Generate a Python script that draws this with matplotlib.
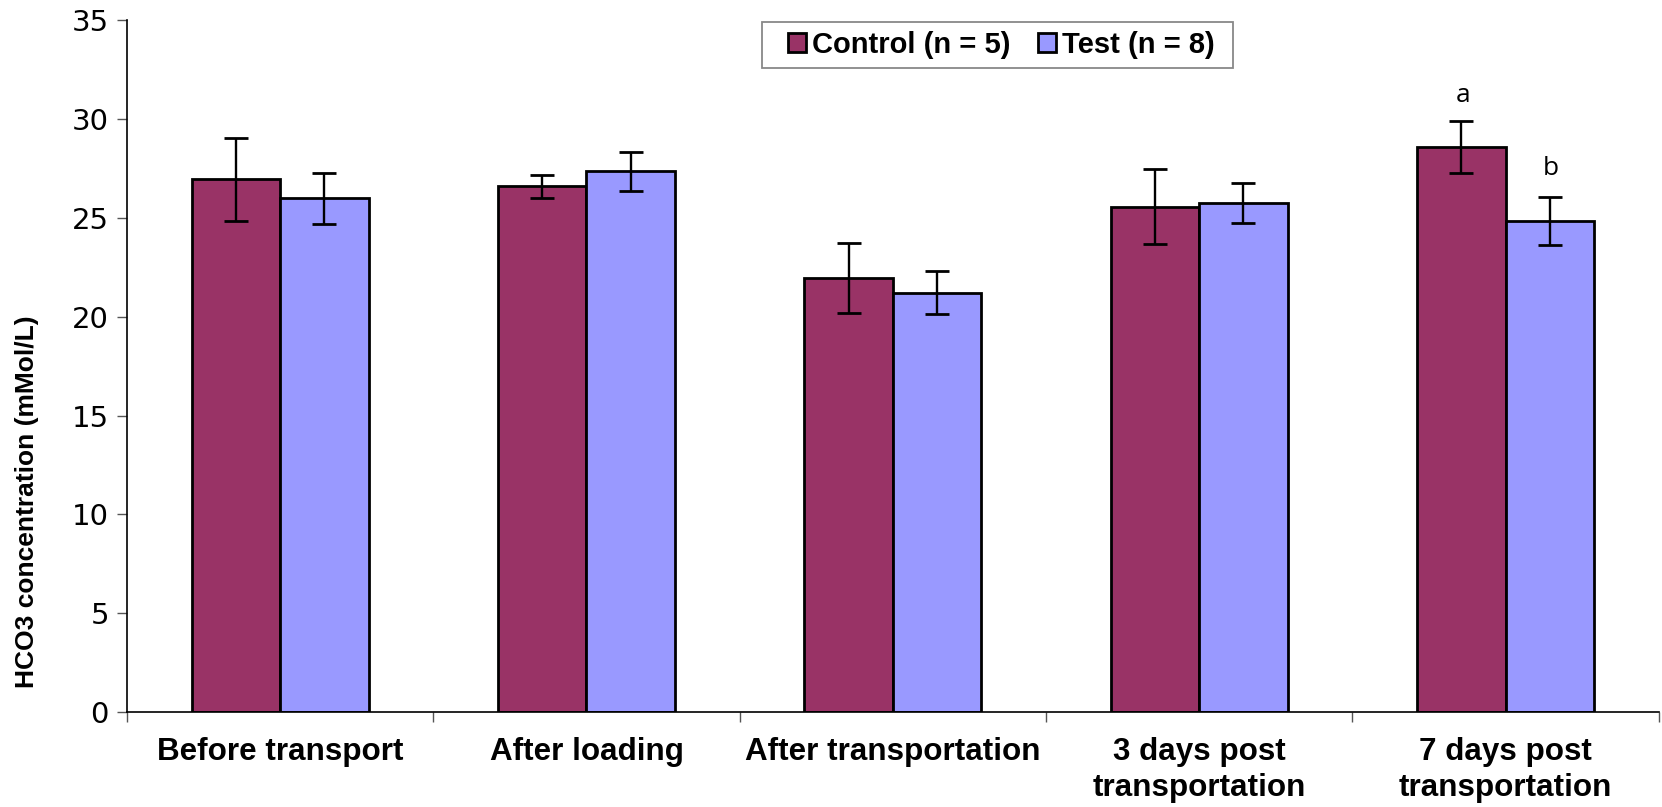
import matplotlib
matplotlib.use("Agg")
import matplotlib.pyplot as plt
from matplotlib.patches import Patch, Rectangle
import numpy as np

categories = ["Before transport", "After loading", "After transportation",
              "3 days post\ntransportation", "7 days post\ntransportation"]
control_mean = [26.95, 26.6, 21.97, 25.57, 28.6]
control_err = [2.1, 0.6, 1.77, 1.9, 1.33]
test_mean = [26.0, 27.36, 21.23, 25.75, 24.86]
test_err = [1.28, 0.97, 1.07, 1.0, 1.22]
control_label = "Control (n = 5)"
test_label = "Test (n = 8)"
sig_control = ["", "", "", "", "a"]
sig_test = ["", "", "", "", "b"]
yticks = [0, 5, 10, 15, 20, 25, 30, 35]
ylabel = "HCO3 concentration (mMol/L)"

c_control = "#993366"
c_test = "#9999FF"

fig = plt.figure(figsize=(16.62, 8.07), dpi=100)
ax = fig.add_axes([0.0764, 0.1177, 0.9216, 0.857])

x = np.arange(len(categories))
w = 0.2885
ax.bar(x - w / 2, control_mean, w, color=c_control, edgecolor="black", linewidth=2.0, zorder=2)
ax.bar(x + w / 2, test_mean, w, color=c_test, edgecolor="black", linewidth=2.0, zorder=2)
ekw = dict(fmt="none", ecolor="black", elinewidth=1.7, capsize=8.5, capthick=2.0, zorder=3)
ax.errorbar(x - w / 2, control_mean, yerr=control_err, **ekw)
ax.errorbar(x + w / 2, test_mean, yerr=test_err, **ekw)

for i in range(len(categories)):
    if sig_control[i]:
        ax.annotate(sig_control[i], (x[i] - w / 2, control_mean[i] + control_err[i]),
                    xytext=(1, 18), textcoords="offset points", ha="center", va="center",
                    fontsize=19, family="Open Sans")
    if sig_test[i]:
        ax.annotate(sig_test[i], (x[i] + w / 2, test_mean[i] + test_err[i]),
                    xytext=(1, 20), textcoords="offset points", ha="center", va="center",
                    fontsize=19, family="Open Sans")

ax.set_xlim(-0.5, len(categories) - 0.5)
ax.set_ylim(0, 35)
ax.set_yticks(yticks)
ax.set_yticklabels([str(t) for t in yticks], family="DejaVu Sans", fontsize=21)
ax.tick_params(axis="y", length=7, width=1.0, color="#555555", pad=6)

ax.set_xticks(x)
ax.set_xticklabels(categories, family="Liberation Sans", fontweight="bold", fontsize=22.6, linespacing=1.28)
ax.tick_params(axis="x", which="major", length=0, pad=18)
ax.set_xticks(np.arange(len(categories) + 1) - 0.5, minor=True)
ax.tick_params(axis="x", which="minor", length=7, width=1.0, color="#555555")

for s in ["top", "right"]:
    ax.spines[s].set_visible(False)
for s in ["left", "bottom"]:
    ax.spines[s].set_linewidth(1.2)
    ax.spines[s].set_color("black")

ax.set_ylabel(ylabel, family="Liberation Sans", fontweight="bold",
              fontsize=19, va="center")
ax.yaxis.set_label_coords(-0.0650, 0.304)

handles = [Patch(facecolor=c_control, edgecolor="black", linewidth=2.0, label=control_label),
           Patch(facecolor=c_test, edgecolor="black", linewidth=2.0, label=test_label)]
leg = fig.legend(handles=handles, loc="center", bbox_to_anchor=(0.6025, 0.944),
                 bbox_transform=fig.transFigure, ncol=2, frameon=False,
                 prop={"family": "Liberation Sans", "weight": "bold", "size": 21},
                 handlelength=0.62, handleheight=0.62, handletextpad=0.2, columnspacing=0.95,
                 borderpad=0.35, borderaxespad=0)
W, H = 1662.0, 807.0
fig.patches.append(Rectangle((762 / W, 1 - 68 / H), (1233 - 762) / W, (68 - 22) / H,
                             transform=fig.transFigure, facecolor="none",
                             edgecolor="#888888", linewidth=1.3))

fig.savefig("out.png", dpi=100)
